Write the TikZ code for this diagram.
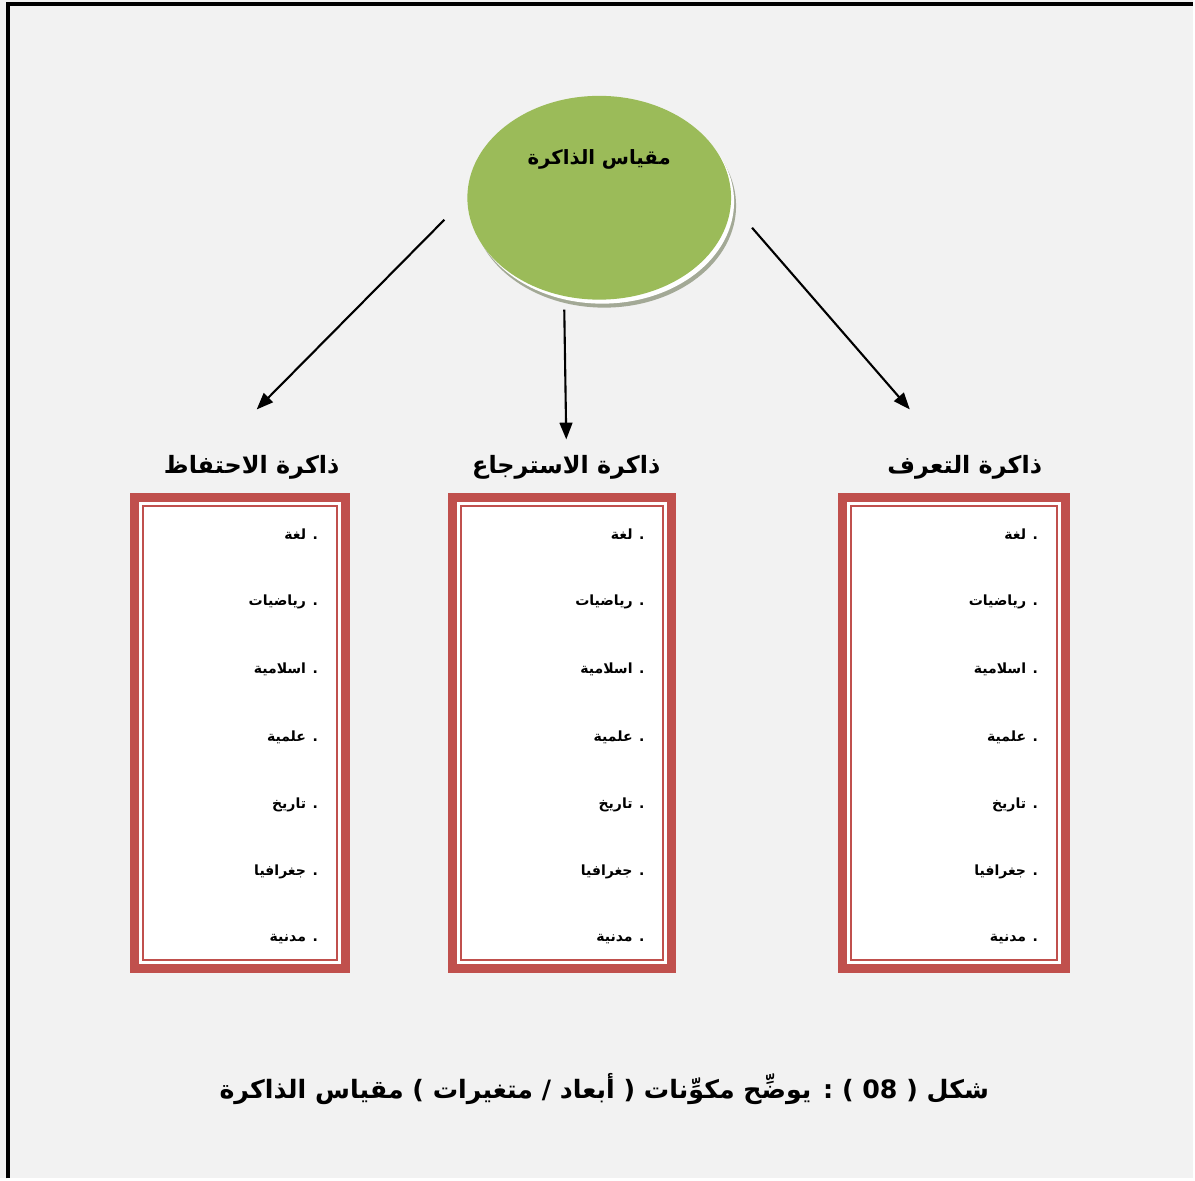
\documentclass[tikz,border=0pt]{standalone}
\usepackage{fontspec}
\newfontfamily\arabicfont[Script=Arabic]{DejaVu Sans}
\TeXXeTstate=1
\usepackage{tikz}
\usetikzlibrary{shapes.geometric}
\usetikzlibrary{arrows.meta}
\usepackage{xcolor}
\definecolor{pagegray}{HTML}{F2F2F2}
\definecolor{scalegreen}{HTML}{9BBB59}
\definecolor{boxred}{HTML}{C0504D}
\definecolor{shadowgray}{HTML}{A3A996}

\begin{document}
\begin{tikzpicture}[x=0.025cm, y=-0.025cm,
    conn/.style={line width=1.5pt, -{Triangle[length=0.42cm, width=0.32cm]}},
    listbox/.style={draw=boxred, fill=white, line width=0.225cm, outer sep=0pt, rectangle, minimum height=11.775cm},
    boxtitle/.style={font=\arabicfont\bfseries\fontsize{17}{20}\selectfont, inner sep=1pt},
    item/.style={font=\arabicfont\bfseries\fontsize{10}{12}\selectfont, anchor=east, inner sep=1pt}]
            % page and frame
            \fill[pagegray] (0,0) rectangle (1195,1180);
            \draw[line width=2.2pt] (8,1180) -- (8,4) -- (1195,4);
            \useasboundingbox (0,0) rectangle (1195,1180);

            % scale ellipse with its shadow
            \coordinate (scalec) at (600,198);
            \fill[shadowgray] ([shift={(5,8)}]scalec) ellipse [x radius=3.3cm, y radius=2.55cm];
            \fill[white] ([shift={(3,4)}]scalec) ellipse [x radius=3.3cm, y radius=2.55cm];
            \node[ellipse, fill=scalegreen, minimum width=6.6cm, minimum height=5.1cm] (scale) at (scalec) {};
            \node[font=\arabicfont\bfseries\fontsize{14}{17}\selectfont] (scaletitle) at (600,160) {\beginR مقياس الذاكرة\endR};

            % three dimensions
            \node[boxtitle] (rettitle) at (252,468) {\beginR ذاكرة الاحتفاظ\endR};
            \node[boxtitle] (rectitle) at (567,468) {\beginR ذاكرة الاسترجاع\endR};
            \node[boxtitle] (rcgtitle) at (966,468) {\beginR ذاكرة التعرف\endR};

            \coordinate (retfrom) at (445,220);
            \coordinate (retto) at (257,410);
            \coordinate (recfrom) at (565,310);
            \coordinate (recto) at (567,440);
            \coordinate (rcgfrom) at (753,228);
            \coordinate (rcgto) at (911,410);
            \draw[conn] (retfrom) -- (retto);
            \draw[conn] (recfrom) -- (recto);
            \draw[conn] (rcgfrom) -- (rcgto);

            % boxes
            \node[listbox, minimum width=5.275cm] (retbox) at (240,734) {};
            \node[listbox, minimum width=5.475cm] (recbox) at (563,734) {};
            \node[listbox, minimum width=5.575cm] (rcgbox) at (955,734) {};
            \draw[boxred, line width=1.4pt] ([shift={(8.5,8.5)}]retbox.north west) rectangle ([shift={(-8.5,-8.5)}]retbox.south east);
            \draw[boxred, line width=1.4pt] ([shift={(8.5,8.5)}]recbox.north west) rectangle ([shift={(-8.5,-8.5)}]recbox.south east);
            \draw[boxred, line width=1.4pt] ([shift={(8.5,8.5)}]rcgbox.north west) rectangle ([shift={(-8.5,-8.5)}]rcgbox.south east);

            % subjects, retention
            \node[item] (ret1) at (320,535) {\beginR. لغة\endR};
            \node[item] (ret2) at (320,603) {\beginR. رياضيات\endR};
            \node[item] (ret3) at (320,670) {\beginR. اسلامية\endR};
            \node[item] (ret4) at (320,738) {\beginR. علمية\endR};
            \node[item] (ret5) at (320,806) {\beginR. تاريخ\endR};
            \node[item] (ret6) at (320,873) {\beginR. جغرافيا\endR};
            \node[item] (ret7) at (320,940) {\beginR. مدنية\endR};

            % subjects, recall
            \node[item] (rec1) at (647,535) {\beginR. لغة\endR};
            \node[item] (rec2) at (647,603) {\beginR. رياضيات\endR};
            \node[item] (rec3) at (647,670) {\beginR. اسلامية\endR};
            \node[item] (rec4) at (647,738) {\beginR. علمية\endR};
            \node[item] (rec5) at (647,806) {\beginR. تاريخ\endR};
            \node[item] (rec6) at (647,873) {\beginR. جغرافيا\endR};
            \node[item] (rec7) at (647,940) {\beginR. مدنية\endR};

            % subjects, recognition
            \node[item] (rcg1) at (1041,535) {\beginR. لغة\endR};
            \node[item] (rcg2) at (1041,603) {\beginR. رياضيات\endR};
            \node[item] (rcg3) at (1041,670) {\beginR. اسلامية\endR};
            \node[item] (rcg4) at (1041,738) {\beginR. علمية\endR};
            \node[item] (rcg5) at (1041,806) {\beginR. تاريخ\endR};
            \node[item] (rcg6) at (1041,873) {\beginR. جغرافيا\endR};
            \node[item] (rcg7) at (1041,940) {\beginR. مدنية\endR};

            % caption
            \node[font=\arabicfont\bfseries\fontsize{18}{21}\selectfont] (caption) at (605,1090) {\beginR شكل ( \beginL 08\endL{} ) : يوضِّح مكوِّنات ( أبعاد / متغيرات ) مقياس الذاكرة\endR};
        \end{tikzpicture}
\end{document}
